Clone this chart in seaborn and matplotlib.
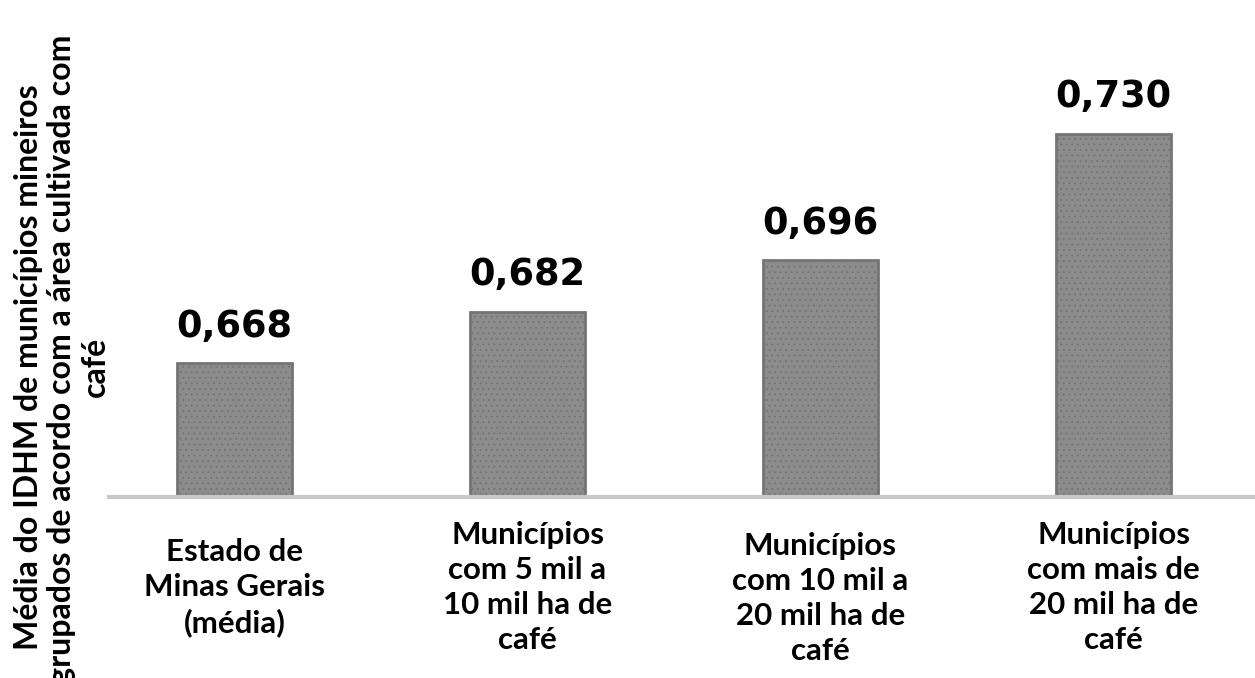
import matplotlib.pyplot as plt
import seaborn as sns

categorias = ['Estado de\nMinas Gerais\n(média)',
              'Municípios\ncom 5 mil a\n10 mil ha de\ncafé',
              'Municípios\ncom 10 mil a\n20 mil ha de\ncafé',
              'Municípios\ncom mais de\n20 mil ha de\ncafé']
valores = [0.668, 0.682, 0.696, 0.730]
rotulos = ['0,668', '0,682', '0,696', '0,730']
titulo_y = ('Média do IDHM de municípios mineiros\n'
            'agrupados de acordo com a área cultivada com\ncafé')

sns.set_style('white')
plt.rcParams['font.family'] = ['Lato', 'DejaVu Sans']
plt.rcParams['text.color'] = 'black'
plt.rcParams['xtick.color'] = 'black'
plt.rcParams['hatch.linewidth'] = 0.7

fig = plt.figure(figsize=(12.55, 6.78), dpi=100)
ax = fig.add_axes([88 / 1255, 181 / 678, 1172 / 1255, 497 / 678])

sns.barplot(x=categorias, y=valores, color='#8c8c8c', saturation=1,
            width=0.39, edgecolor='#757575', linewidth=2, ax=ax)
for barra in ax.patches:
    barra.set_hatch('...')

ax.bar_label(ax.containers[0], labels=rotulos, padding=13, fontsize=26.5,
             fontweight='bold', family='DejaVu Sans', color='black')

ax.set_xlim(-0.5, 3.5)
ax.set_ylim(0.632, 0.766)
ax.set_yticks([])
ax.set_ylabel('')

ax.set_xticks(range(len(categorias)))
ax.set_xticklabels(categorias, fontsize=22.5, fontweight='bold',
                   va='center', linespacing=1.3, color='black')
ax.tick_params(axis='x', which='major', length=0, pad=65)
ax.set_xticks([0.5, 1.5, 2.5], minor=True)
ax.tick_params(axis='x', which='minor', length=9, width=1.5,
               color='#c0c0c0', direction='out')
ax.get_xticklabels()[2].set_y(-0.022)

sns.despine(ax=ax, left=True)
ax.spines['bottom'].set_color('#c8c8c8')
ax.spines['bottom'].set_linewidth(3)
ax.spines['bottom'].set_bounds(-0.43, 3.5)

fig.text(62 / 1255, 1 - 367 / 678, titulo_y, rotation=90, ha='center',
         va='center', multialignment='center', fontsize=23,
         fontweight='bold', linespacing=1.2, color='black')

fig.savefig('out.png', dpi=100)
